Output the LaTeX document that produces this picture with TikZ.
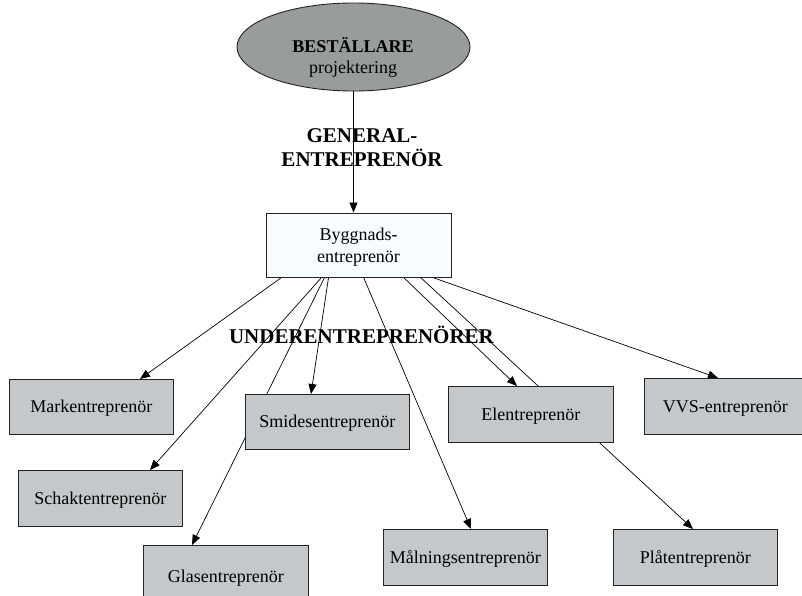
\documentclass[tikz,border=0pt]{standalone}
\usepackage{fontspec}
\setmainfont{Liberation Serif}
\usetikzlibrary{arrows.meta,shapes.geometric,backgrounds}
\definecolor{ellgray}{RGB}{153,156,157}
\definecolor{boxgray}{RGB}{197,200,203}
\definecolor{lightbg}{RGB}{247,252,255}
\definecolor{framegray}{RGB}{35,35,35}
\begin{document}
\begin{tikzpicture}[x=1pt,y=-1pt,
  framed/.style={draw=framegray,line width=0.9pt,inner sep=0pt},
  sub/.style={framed,fill=boxgray,anchor=north west,minimum width=164pt,
    minimum height=55pt,font=\fontsize{18}{22}\selectfont,
    text height=12pt,text depth=0pt},
  link/.style={draw=black,line width=0.7pt},
  arr/.style={link,-{Triangle[length=10pt,width=8pt]}},
  head/.style={font=\fontsize{21}{24}\selectfont\bfseries,inner sep=0pt,align=center}]
\useasboundingbox (0,0) rectangle (802,596);
\clip (0,0) rectangle (802,596);

% client and main contractor
\node[framed,ellipse,fill=ellgray,minimum width=233pt,minimum height=88pt] (best) at (353.5,47) {};
\node[align=center,inner sep=0pt,font=\fontsize{18}{21}\selectfont] (besttext) at (353,57.5)
  {{\bfseries BESTÄLLARE}\\projektering};
\node[framed,fill=lightbg,minimum width=185pt,minimum height=64pt,align=center,
  font=\fontsize{18}{22}\selectfont,text depth=0pt] (bygg) at (358.5,245) {Byggnads-\\entreprenör};

% headings
\node[head] (gen) at (362,147.5) {GENERAL-\\ENTREPRENÖR};
\node[head,anchor=base] (under) at (361.5,343) {UNDERENTREPRENÖRER};

% subcontractors
\node[sub] (mark) at (9,379) {Markentreprenör};
\node[sub,minimum height=56pt] (schakt) at (18,470) {Schaktentreprenör};
\node[sub] (smides) at (245,394) {Smidesentreprenör};
\node[sub,minimum width=165pt,minimum height=62pt] (glas) at (143,545) {Glasentreprenör};
\node[sub,minimum height=56pt] (maln) at (383,529) {Målningsentreprenör};
\node[sub,minimum height=56pt] (plat) at (613,529) {Plåtentreprenör};
\node[sub,minimum width=165pt,minimum height=56pt] (el) at (448,386) {Elentreprenör};
\node[sub,minimum width=162pt,minimum height=56pt] (vvs) at (644,378) {VVS-entreprenör};

% connectors run behind the boxes
\begin{scope}[on background layer]
  \fill[white] (0,0) rectangle (802,596);
  \draw[arr] (best.south) -- (best.south |- bygg.north);
  \draw[arr] ([xshift=16pt]bygg.south west) -- ([xshift=131pt]mark.north west);
  \draw[arr] ([xshift=56pt]bygg.south west) -- ([xshift=132pt]schakt.north west);
  \draw[arr] ([xshift=59pt]bygg.south west) -- ([xshift=49pt]glas.north west);
  \draw[arr] ([xshift=63pt]bygg.south west) -- ([xshift=66pt]smides.north west);
  \draw[arr] ([xshift=98pt]bygg.south west) -- ([xshift=88pt]maln.north west);
  \draw[arr] ([xshift=138pt]bygg.south west) -- ([xshift=69pt]el.north west);
  \draw[arr] ([xshift=155pt]bygg.south west) -- ([xshift=80pt]plat.north west);
  \draw[arr] ([xshift=167pt]bygg.south west) -- ([xshift=74pt]vvs.north west);
\end{scope}
\end{tikzpicture}
\end{document}
